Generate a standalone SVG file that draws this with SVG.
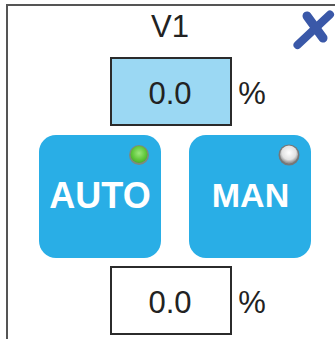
<svg xmlns="http://www.w3.org/2000/svg" width="335" height="339" viewBox="0 0 335 339">
<defs>
<style>
text{font-family:"Liberation Sans",Arial,sans-serif;text-anchor:middle}
.t{font-size:31px;fill:#222}
.b{fill:#29aee6}
.l{font-size:36px;font-weight:bold;fill:#fff}
.f{stroke:#2b2b2b;stroke-width:2}
.x{fill:none;stroke:#3a58a8;stroke-linecap:round}
</style>
<radialGradient id="g" cx=".5" cy=".42" r=".6"><stop offset="0" stop-color="#9be87a"/><stop offset=".7" stop-color="#5cc436"/><stop offset="1" stop-color="#48a82e"/></radialGradient>
<radialGradient id="w" cx=".5" cy=".4" r=".55"><stop offset="0" stop-color="#fff"/><stop offset=".7" stop-color="#e2e2e2"/><stop offset="1" stop-color="#999"/></radialGradient>
</defs>
<rect width="335" height="339" fill="#fff"/>
<path d="M7 339V5H335" fill="none" stroke="#555" stroke-width="2"/>
<g id="title"><text class="t" x="170" y="37">V1</text></g>
<g id="close"><path class="x" stroke-width="8" d="M297.500 45L330 14.500"/><path class="x" stroke-width="9" d="M307 16L323 38"/></g>
<g id="setpoint"><rect class="f" x="111" y="58" width="120" height="67" fill="#9bd8f3"/><text class="t" x="170" y="104">0.0</text><text class="t" x="252" y="104">%</text></g>
<g id="auto"><rect class="b" x="39" y="135" width="122" height="123" rx="17"/><circle cx="139" cy="155" r="10" fill="#7d8a7d"/><circle cx="139" cy="154.500" r="8.500" fill="url(#g)"/><text class="l" x="100" y="208">AUTO</text></g>
<g id="man"><rect class="b" x="189" y="135" width="122" height="123" rx="17"/><circle cx="289" cy="155" r="10.500" fill="#777"/><circle cx="289" cy="154.500" r="9" fill="url(#w)"/><text class="l" x="250.500" y="207" style="font-size:34px">MAN</text></g>
<g id="output"><rect class="f" x="111" y="267" width="120" height="67" fill="#fff"/><text class="t" x="170" y="313">0.0</text><text class="t" x="252" y="313">%</text></g>
</svg>
